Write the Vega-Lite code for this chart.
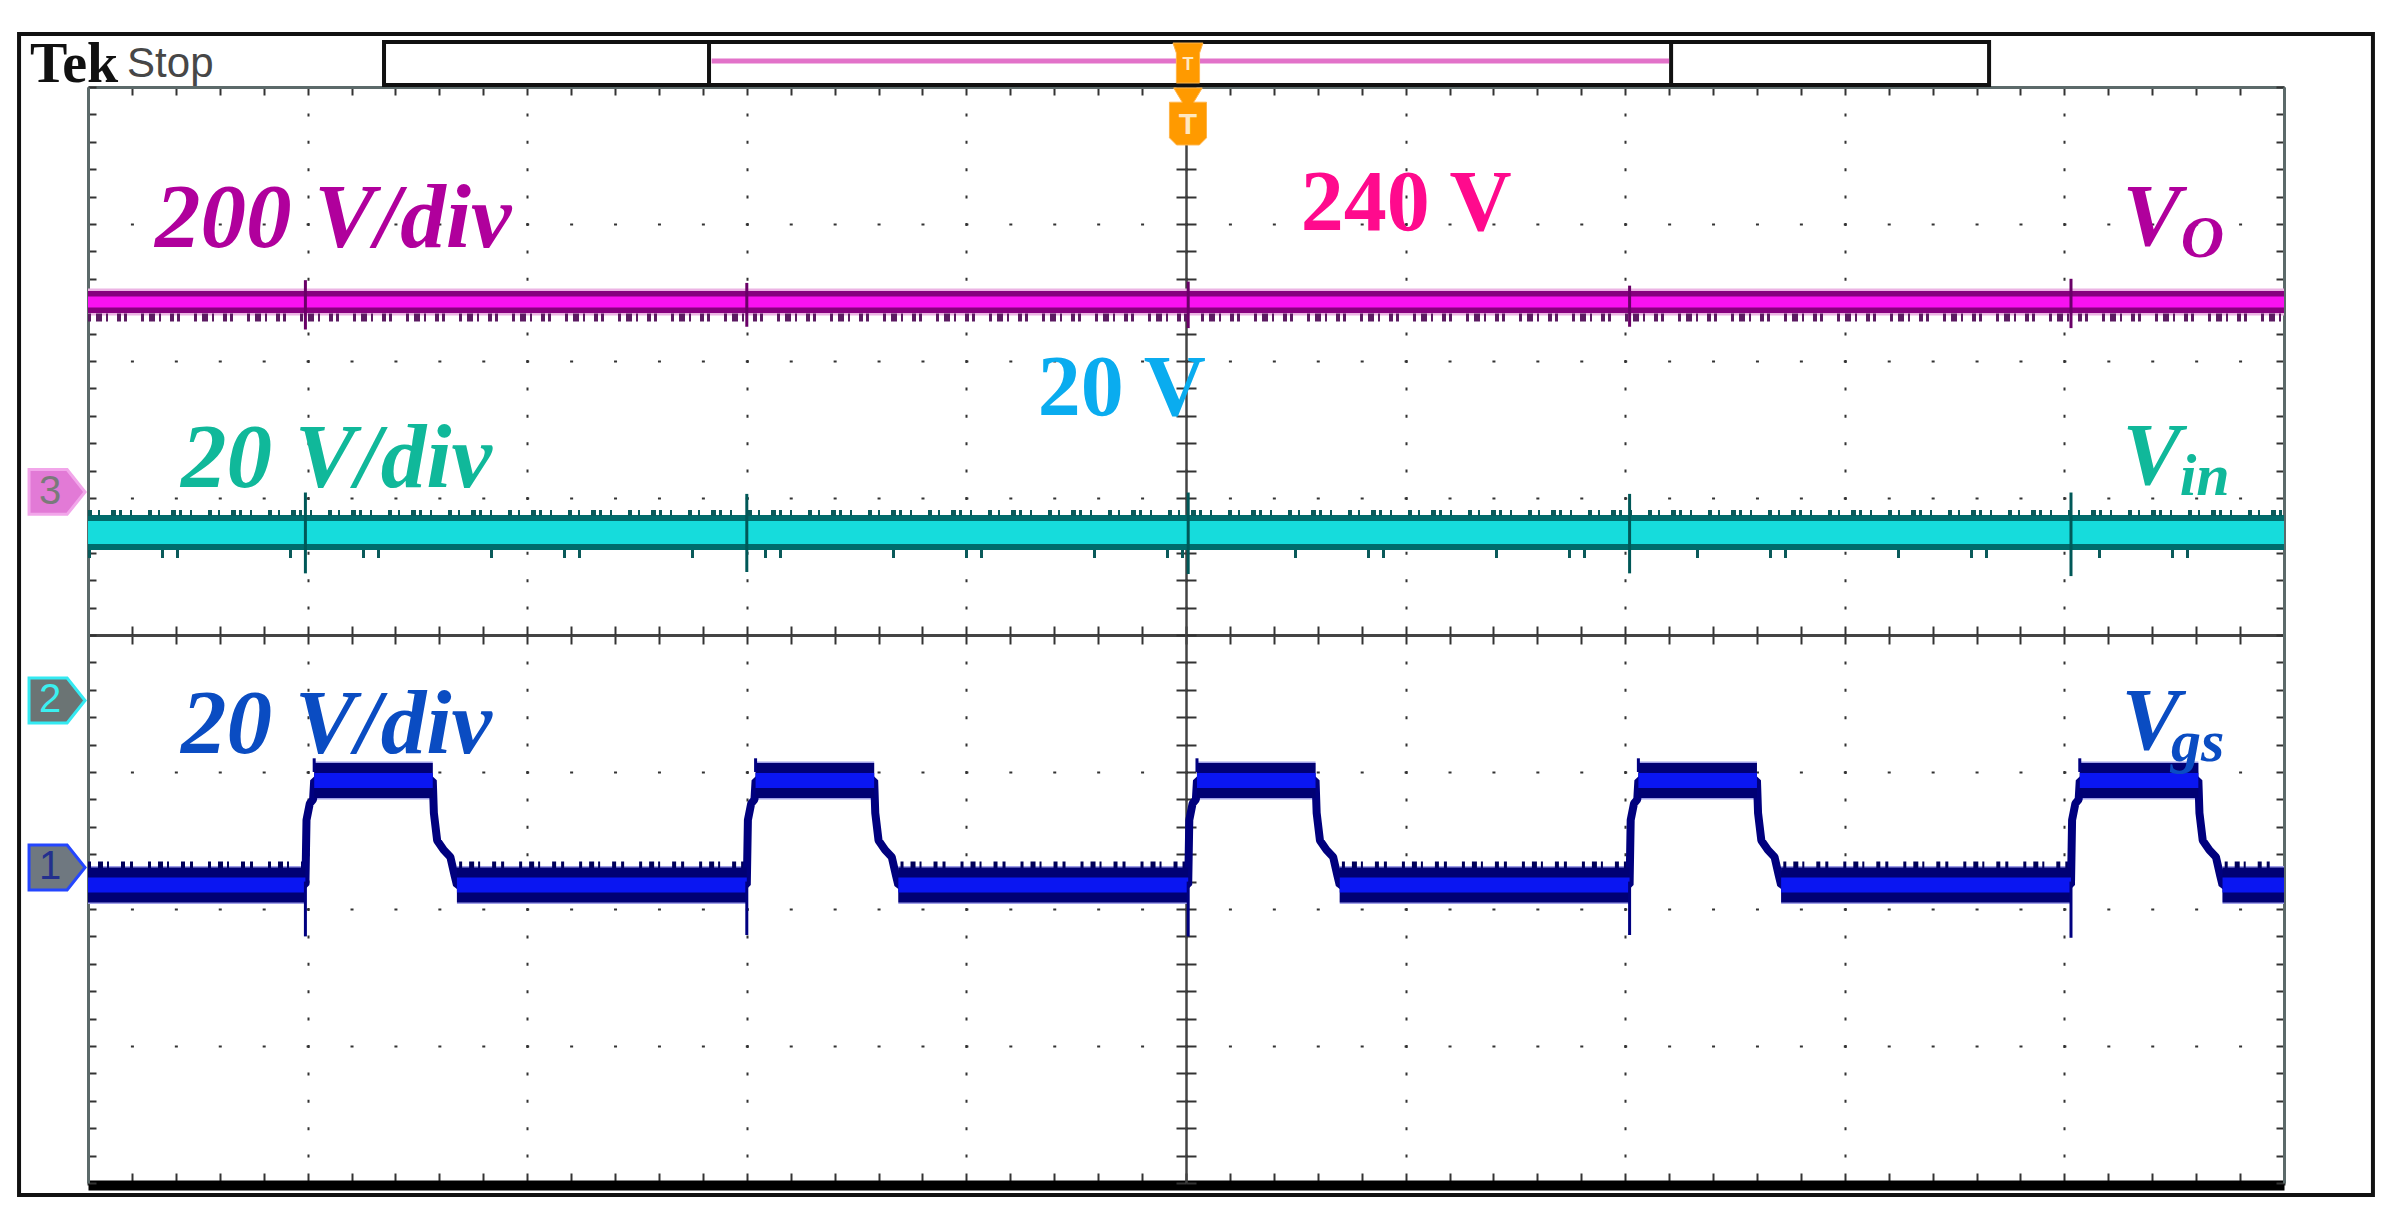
{
  "$schema": "https://vega.github.io/schema/vega-lite/v6.json",
  "width": 2196,
  "height": 1096,
  "autosize": "none",
  "padding": {"left": 88, "top": 87, "right": 110, "bottom": 30},
  "background": "white",
  "config": {"view": {"stroke": null}},
  "datasets": {
    "vo": [{"t":0,"v":2.431},{"t":1,"v":2.431},{"t":2,"v":2.431},{"t":3,"v":2.431},{"t":4,"v":2.431},{"t":5,"v":2.431},{"t":6,"v":2.431},{"t":7,"v":2.431},{"t":8,"v":2.431},{"t":9,"v":2.431},{"t":10,"v":2.431}],
    "vin": [{"t":0,"v":0.748},{"t":1,"v":0.748},{"t":2,"v":0.748},{"t":3,"v":0.748},{"t":4,"v":0.748},{"t":5,"v":0.748},{"t":6,"v":0.748},{"t":7,"v":0.748},{"t":8,"v":0.748},{"t":9,"v":0.748},{"t":10,"v":0.748}],
    "fringe": [
      {"t":0,"v":2.317,"seg":"vo"},{"t":10,"v":2.317,"seg":"vo"},
      {"t":0,"v":0.89,"seg":"vin_hi"},{"t":10,"v":0.89,"seg":"vin_hi"},
      {"t":0,"v":0.591,"seg":"vin_lo"},{"t":10,"v":0.591,"seg":"vin_lo"},
      {"t":0,"v":-1.679,"seg":"g0"},{"t":0.98,"v":-1.679,"seg":"g0"},
      {"t":1.69,"v":-1.679,"seg":"g1"},{"t":2.99,"v":-1.679,"seg":"g1"},
      {"t":3.7,"v":-1.679,"seg":"g3"},{"t":5.0,"v":-1.679,"seg":"g3"},
      {"t":5.71,"v":-1.679,"seg":"g5"},{"t":7.01,"v":-1.679,"seg":"g5"},
      {"t":7.72,"v":-1.679,"seg":"g7"},{"t":9.02,"v":-1.679,"seg":"g7"},
      {"t":9.73,"v":-1.679,"seg":"g9"},{"t":10,"v":-1.679,"seg":"g9"}
    ],
    "vgs": [
      {"t":0,"v":-1.825,"kind":"L","seg":"a0"},{"t":0.99,"v":-1.825,"kind":"L","seg":"a0"},
      {"t":0.995,"v":-1.35,"kind":"E","seg":"e"},{"t":1.01,"v":-1.23,"kind":"E","seg":"e"},{"t":1.025,"v":-1.2,"kind":"E","seg":"e"},
      {"t":1.03,"v":-1.062,"kind":"L","seg":"b1"},{"t":1.57,"v":-1.062,"kind":"L","seg":"b1"},
      {"t":1.575,"v":-1.3,"kind":"E","seg":"e"},{"t":1.59,"v":-1.5,"kind":"E","seg":"e"},{"t":1.62,"v":-1.57,"kind":"E","seg":"e"},{"t":1.65,"v":-1.62,"kind":"E","seg":"e"},{"t":1.67,"v":-1.76,"kind":"E","seg":"e"},
      {"t":1.68,"v":-1.825,"kind":"L","seg":"a1"},{"t":3.0,"v":-1.825,"kind":"L","seg":"a1"},
      {"t":3.005,"v":-1.35,"kind":"E","seg":"e"},{"t":3.02,"v":-1.23,"kind":"E","seg":"e"},{"t":3.035,"v":-1.2,"kind":"E","seg":"e"},
      {"t":3.04,"v":-1.062,"kind":"L","seg":"b3"},{"t":3.58,"v":-1.062,"kind":"L","seg":"b3"},
      {"t":3.585,"v":-1.3,"kind":"E","seg":"e"},{"t":3.6,"v":-1.5,"kind":"E","seg":"e"},{"t":3.63,"v":-1.57,"kind":"E","seg":"e"},{"t":3.66,"v":-1.62,"kind":"E","seg":"e"},{"t":3.68,"v":-1.76,"kind":"E","seg":"e"},
      {"t":3.69,"v":-1.825,"kind":"L","seg":"a3"},{"t":5.01,"v":-1.825,"kind":"L","seg":"a3"},
      {"t":5.015,"v":-1.35,"kind":"E","seg":"e"},{"t":5.03,"v":-1.23,"kind":"E","seg":"e"},{"t":5.045,"v":-1.2,"kind":"E","seg":"e"},
      {"t":5.05,"v":-1.062,"kind":"L","seg":"b5"},{"t":5.59,"v":-1.062,"kind":"L","seg":"b5"},
      {"t":5.595,"v":-1.3,"kind":"E","seg":"e"},{"t":5.61,"v":-1.5,"kind":"E","seg":"e"},{"t":5.64,"v":-1.57,"kind":"E","seg":"e"},{"t":5.67,"v":-1.62,"kind":"E","seg":"e"},{"t":5.69,"v":-1.76,"kind":"E","seg":"e"},
      {"t":5.7,"v":-1.825,"kind":"L","seg":"a5"},{"t":7.02,"v":-1.825,"kind":"L","seg":"a5"},
      {"t":7.025,"v":-1.35,"kind":"E","seg":"e"},{"t":7.04,"v":-1.23,"kind":"E","seg":"e"},{"t":7.055,"v":-1.2,"kind":"E","seg":"e"},
      {"t":7.06,"v":-1.062,"kind":"L","seg":"b7"},{"t":7.6,"v":-1.062,"kind":"L","seg":"b7"},
      {"t":7.605,"v":-1.3,"kind":"E","seg":"e"},{"t":7.62,"v":-1.5,"kind":"E","seg":"e"},{"t":7.65,"v":-1.57,"kind":"E","seg":"e"},{"t":7.68,"v":-1.62,"kind":"E","seg":"e"},{"t":7.7,"v":-1.76,"kind":"E","seg":"e"},
      {"t":7.71,"v":-1.825,"kind":"L","seg":"a7"},{"t":9.03,"v":-1.825,"kind":"L","seg":"a7"},
      {"t":9.035,"v":-1.35,"kind":"E","seg":"e"},{"t":9.05,"v":-1.23,"kind":"E","seg":"e"},{"t":9.065,"v":-1.2,"kind":"E","seg":"e"},
      {"t":9.07,"v":-1.062,"kind":"L","seg":"b9"},{"t":9.61,"v":-1.062,"kind":"L","seg":"b9"},
      {"t":9.615,"v":-1.3,"kind":"E","seg":"e"},{"t":9.63,"v":-1.5,"kind":"E","seg":"e"},{"t":9.66,"v":-1.57,"kind":"E","seg":"e"},{"t":9.69,"v":-1.62,"kind":"E","seg":"e"},{"t":9.71,"v":-1.76,"kind":"E","seg":"e"},
      {"t":9.72,"v":-1.825,"kind":"L","seg":"a9"},{"t":10,"v":-1.825,"kind":"L","seg":"a9"}
    ],
    "spikes": [
      {"t":0.99,"v":2.59,"v2":2.23,"ch":"sp_vo"},{"t":3.0,"v":2.57,"v2":2.25,"ch":"sp_vo"},{"t":5.01,"v":2.58,"v2":2.24,"ch":"sp_vo"},{"t":7.02,"v":2.55,"v2":2.25,"ch":"sp_vo"},{"t":9.03,"v":2.6,"v2":2.24,"ch":"sp_vo"},
      {"t":0.99,"v":1.04,"v2":0.45,"ch":"sp_vin"},{"t":3.0,"v":1.03,"v2":0.46,"ch":"sp_vin"},{"t":5.01,"v":1.04,"v2":0.445,"ch":"sp_vin"},{"t":7.02,"v":1.03,"v2":0.45,"ch":"sp_vin"},{"t":9.03,"v":1.04,"v2":0.43,"ch":"sp_vin"},
      {"t":0.99,"v":-1.8,"v2":-2.2,"ch":"sp_vgs"},{"t":3.0,"v":-1.8,"v2":-2.19,"ch":"sp_vgs"},{"t":5.01,"v":-1.8,"v2":-2.2,"ch":"sp_vgs"},{"t":7.02,"v":-1.8,"v2":-2.19,"ch":"sp_vgs"},{"t":9.03,"v":-1.8,"v2":-2.21,"ch":"sp_vgs"},
      {"t":1.03,"v":-1.0,"v2":-0.9,"ch":"sp_vgs"},{"t":3.04,"v":-1.0,"v2":-0.9,"ch":"sp_vgs"},{"t":5.05,"v":-1.0,"v2":-0.9,"ch":"sp_vgs"},{"t":7.06,"v":-1.0,"v2":-0.9,"ch":"sp_vgs"},{"t":9.07,"v":-1.0,"v2":-0.9,"ch":"sp_vgs"}
    ],
    "frames": [
      {"t":-0.314,"t2":10.405,"v":4.387,"v2":-4.088,"part":"frame"},
      {"t":1.348,"t2":8.657,"v":4.328,"v2":4.015,"part":"header"},
      {"t":2.828,"t2":7.209,"v":4.328,"v2":4.015,"part":"window"}
    ],
    "window": [{"t":2.84,"t2":7.2,"v":4.19}],
    "trig": [{"t":5.009,"v":3.785,"part":"lower"},{"t":5.009,"v":4.175,"part":"upper"}],
    "markers": [
      {"t":-0.141,"v":1.044,"ch":"m3"},
      {"t":-0.141,"v":-0.478,"ch":"m2"},
      {"t":-0.141,"v":-1.697,"ch":"m1"}
    ],
    "labels": [
      {"t":0.305,"v":2.832,"text":"200 V/div","ch":"vo_t","role":"big"},
      {"t":0.4235,"v":1.08,"text":"20 V/div","ch":"vin_t","role":"big"},
      {"t":0.4235,"v":-0.861,"text":"20 V/div","ch":"vgs_t","role":"big"},
      {"t":9.265,"v":2.847,"text":"V","ch":"vo_t","role":"sym"},
      {"t":9.53,"v":2.759,"text":"O","ch":"vo_t","role":"sub"},
      {"t":9.265,"v":1.102,"text":"V","ch":"vin_t","role":"sym"},
      {"t":9.525,"v":1.022,"text":"in","ch":"vin_t","role":"sub"},
      {"t":9.26,"v":-0.832,"text":"V","ch":"vgs_t","role":"sym"},
      {"t":9.485,"v":-0.92,"text":"gs","ch":"vgs_t","role":"sub"},
      {"t":5.522,"v":2.956,"text":"240 V","ch":"l240","role":"lvl"},
      {"t":4.325,"v":1.606,"text":"20 V","ch":"l20","role":"lvl"},
      {"t":-0.264,"v":4.0365,"text":"Tek","ch":"tek","role":"tek"},
      {"t":0.178,"v":4.073,"text":"Stop","ch":"stop","role":"stop"},
      {"t":-0.173,"v":1.044,"text":"3","ch":"m3","role":"mk"},
      {"t":-0.173,"v":-0.478,"text":"2","ch":"m2","role":"mk"},
      {"t":-0.173,"v":-1.697,"text":"1","ch":"m1","role":"mk"},
      {"t":5.009,"v":3.723,"text":"T","ch":"trig","role":"trig"},
      {"t":5.009,"v":4.16,"text":"T","ch":"trig","role":"trig2"}
    ]
  },
  "resolve": {"axis": {"x": "independent", "y": "independent"}},
  "layer": [
    {
      "data": {"name": "vo"},
      "mark": {"type": "line", "color": "#ecb4e4", "strokeWidth": 27, "strokeCap": "butt"},
      "encoding": {
        "x": {"field": "t", "type": "quantitative", "scale": {"domain": [0, 10], "nice": false, "zero": false},
          "axis": {"orient": "bottom", "values": [1,2,3,4,5,6,7,8,9], "grid": true, "gridColor": "#333333", "gridWidth": 2, "gridDash": [3, 24.4], "gridDashOffset": 1.5, "ticks": false, "labels": false, "domain": false, "title": null}},
        "y": {"field": "v", "type": "quantitative", "scale": {"domain": [-4, 4], "nice": false, "zero": false},
          "axis": {"orient": "left", "values": [-3,-2,-1,0,1,2,3], "grid": true, "gridColor": "#333333", "gridWidth": 2, "gridDash": [3, 40.92], "gridDashOffset": 1.5, "ticks": false, "labels": false, "domain": false, "title": null}}
      }
    },
    {
      "data": {"name": "vo"},
      "mark": {"type": "line", "color": "#86007e", "strokeWidth": 22, "strokeCap": "butt"},
      "encoding": {
        "x": {"field": "t", "type": "quantitative", "scale": {"domain": [0, 10], "nice": false, "zero": false},
          "axis": {"orient": "bottom", "offset": 2, "values": [0,0.2,0.4,0.6,0.8,1,1.2,1.4,1.6,1.8,2,2.2,2.4,2.6,2.8,3,3.2,3.4,3.6,3.8,4,4.2,4.4,4.6,4.8,5,5.2,5.4,5.6,5.8,6,6.2,6.4,6.6,6.8,7,7.2,7.4,7.6,7.8,8,8.2,8.4,8.6,8.8,9,9.2,9.4,9.6,9.8,10], "ticks": true, "tickSize": -12, "tickColor": "#333333", "tickWidth": 2, "labels": false, "grid": false, "domain": true, "domainColor": "#000000", "domainWidth": 10, "title": null}},
        "y": {"field": "v", "type": "quantitative", "scale": {"domain": [-4, 4], "nice": false, "zero": false},
          "axis": {"orient": "left", "values": [-4,-3.8,-3.6,-3.4,-3.2,-3,-2.8,-2.6,-2.4,-2.2,-2,-1.8,-1.6,-1.4,-1.2,-1,-0.8,-0.6,-0.4,-0.2,0,0.2,0.4,0.6,0.8,1,1.2,1.4,1.6,1.8,2,2.2,2.4,2.6,2.8,3,3.2,3.4,3.6,3.8,4], "ticks": true, "tickSize": -8, "tickColor": "#333333", "tickWidth": 2, "labels": false, "grid": false, "domain": true, "domainColor": "#5c6a6a", "domainWidth": 3, "title": null}}
      }
    },
    {
      "data": {"name": "vo"},
      "mark": {"type": "line", "color": "#f812f0", "strokeWidth": 11, "strokeCap": "butt"},
      "encoding": {
        "x": {"field": "t", "type": "quantitative", "scale": {"domain": [0, 10], "nice": false, "zero": false},
          "axis": {"orient": "top", "values": [0,0.2,0.4,0.6,0.8,1,1.2,1.4,1.6,1.8,2,2.2,2.4,2.6,2.8,3,3.2,3.4,3.6,3.8,4,4.2,4.4,4.6,4.8,5,5.2,5.4,5.6,5.8,6,6.2,6.4,6.6,6.8,7,7.2,7.4,7.6,7.8,8,8.2,8.4,8.6,8.8,9,9.2,9.4,9.6,9.8,10], "ticks": true, "tickSize": -8, "tickColor": "#333333", "tickWidth": 2, "labels": false, "grid": false, "domain": true, "domainColor": "#5c6a6a", "domainWidth": 3, "title": null}},
        "y": {"field": "v", "type": "quantitative", "scale": {"domain": [-4, 4], "nice": false, "zero": false},
          "axis": {"orient": "right", "values": [-4,-3.8,-3.6,-3.4,-3.2,-3,-2.8,-2.6,-2.4,-2.2,-2,-1.8,-1.6,-1.4,-1.2,-1,-0.8,-0.6,-0.4,-0.2,0,0.2,0.4,0.6,0.8,1,1.2,1.4,1.6,1.8,2,2.2,2.4,2.6,2.8,3,3.2,3.4,3.6,3.8,4], "ticks": true, "tickSize": -8, "tickColor": "#333333", "tickWidth": 2, "labels": false, "grid": false, "domain": true, "domainColor": "#5c6a6a", "domainWidth": 3, "title": null}}
      }
    },
    {
      "data": {"name": "vin"},
      "mark": {"type": "line", "color": "#006c6c", "strokeWidth": 35, "strokeCap": "butt"},
      "encoding": {
        "x": {"field": "t", "type": "quantitative", "scale": {"domain": [0, 10], "nice": false, "zero": false},
          "axis": {"orient": "bottom", "offset": -548, "values": [0,0.2,0.4,0.6,0.8,1,1.2,1.4,1.6,1.8,2,2.2,2.4,2.6,2.8,3,3.2,3.4,3.6,3.8,4,4.2,4.4,4.6,4.8,5,5.2,5.4,5.6,5.8,6,6.2,6.4,6.6,6.8,7,7.2,7.4,7.6,7.8,8,8.2,8.4,8.6,8.8,9,9.2,9.4,9.6,9.8,10], "ticks": true, "tickSize": 9, "tickColor": "#333333", "tickWidth": 2, "labels": false, "grid": false, "domain": true, "domainColor": "#444444", "domainWidth": 3, "title": null}},
        "y": {"field": "v", "type": "quantitative", "scale": {"domain": [-4, 4], "nice": false, "zero": false},
          "axis": {"orient": "left", "offset": -1098, "values": [-4,-3.8,-3.6,-3.4,-3.2,-3,-2.8,-2.6,-2.4,-2.2,-2,-1.8,-1.6,-1.4,-1.2,-1,-0.8,-0.6,-0.4,-0.2,0,0.2,0.4,0.6,0.8,1,1.2,1.4,1.6,1.8,2,2.2,2.4,2.6,2.8,3,3.2,3.4,3.6,3.8,4], "ticks": true, "tickSize": 10, "tickColor": "#333333", "tickWidth": 2, "labels": false, "grid": false, "domain": true, "domainColor": "#444444", "domainWidth": 2.5, "title": null}}
      }
    },
    {
      "data": {"name": "vin"},
      "mark": {"type": "line", "color": "#16dcdc", "strokeWidth": 23, "strokeCap": "butt"},
      "encoding": {
        "x": {"field": "t", "type": "quantitative", "scale": {"domain": [0, 10], "nice": false, "zero": false},
          "axis": {"orient": "top", "offset": -548, "values": [0,0.2,0.4,0.6,0.8,1,1.2,1.4,1.6,1.8,2,2.2,2.4,2.6,2.8,3,3.2,3.4,3.6,3.8,4,4.2,4.4,4.6,4.8,5,5.2,5.4,5.6,5.8,6,6.2,6.4,6.6,6.8,7,7.2,7.4,7.6,7.8,8,8.2,8.4,8.6,8.8,9,9.2,9.4,9.6,9.8,10], "ticks": true, "tickSize": 9, "tickColor": "#333333", "tickWidth": 2, "labels": false, "grid": false, "domain": false, "title": null}},
        "y": {"field": "v", "type": "quantitative", "scale": {"domain": [-4, 4], "nice": false, "zero": false},
          "axis": {"orient": "right", "offset": -1098, "values": [-4,-3.8,-3.6,-3.4,-3.2,-3,-2.8,-2.6,-2.4,-2.2,-2,-1.8,-1.6,-1.4,-1.2,-1,-0.8,-0.6,-0.4,-0.2,0,0.2,0.4,0.6,0.8,1,1.2,1.4,1.6,1.8,2,2.2,2.4,2.6,2.8,3,3.2,3.4,3.6,3.8,4], "ticks": true, "tickSize": 10, "tickColor": "#333333", "tickWidth": 2, "labels": false, "grid": false, "domain": false, "title": null}}
      }
    },
    {
      "data": {"name": "fringe"},
      "transform": [{"filter": "datum.seg == 'vo'"}],
      "mark": {"type": "line", "color": "#5c1a62", "strokeWidth": 8, "strokeCap": "butt", "strokeDash": [3, 5, 6, 4, 2, 9, 4, 3, 3, 14]},
      "encoding": {
        "x": {"field": "t", "type": "quantitative", "scale": {"domain": [0, 10], "nice": false, "zero": false}, "axis": null},
        "y": {"field": "v", "type": "quantitative", "scale": {"domain": [-4, 4], "nice": false, "zero": false}, "axis": null}
      }
    },
    {
      "data": {"name": "fringe"},
      "transform": [{"filter": "datum.seg == 'vin_hi'"}],
      "mark": {"type": "line", "color": "#0a5a5a", "strokeWidth": 6, "strokeCap": "butt", "strokeDash": [4, 6, 2, 11, 5, 3, 3, 8, 2, 16]},
      "encoding": {
        "x": {"field": "t", "type": "quantitative", "scale": {"domain": [0, 10], "nice": false, "zero": false}, "axis": null},
        "y": {"field": "v", "type": "quantitative", "scale": {"domain": [-4, 4], "nice": false, "zero": false}, "axis": null}
      }
    },
    {
      "data": {"name": "fringe"},
      "transform": [{"filter": "datum.seg == 'vin_lo'"}],
      "mark": {"type": "line", "color": "#0a5a5a", "strokeWidth": 8, "strokeCap": "butt", "strokeDash": [3, 70, 3, 12, 3, 110]},
      "encoding": {
        "x": {"field": "t", "type": "quantitative", "scale": {"domain": [0, 10], "nice": false, "zero": false}, "axis": null},
        "y": {"field": "v", "type": "quantitative", "scale": {"domain": [-4, 4], "nice": false, "zero": false}, "axis": null}
      }
    },
    {
      "data": {"name": "vgs"},
      "transform": [{"filter": "datum.kind == 'L'"}],
      "mark": {"type": "line", "color": "#a0a0e8", "strokeWidth": 38, "strokeCap": "butt"},
      "encoding": {
        "x": {"field": "t", "type": "quantitative", "scale": {"domain": [0, 10], "nice": false, "zero": false}, "axis": null},
        "y": {"field": "v", "type": "quantitative", "scale": {"domain": [-4, 4], "nice": false, "zero": false}, "axis": null},
        "detail": {"field": "seg"}
      }
    },
    {
      "data": {"name": "fringe"},
      "transform": [{"filter": "indexof(datum.seg, 'g') == 0"}],
      "mark": {"type": "line", "color": "#00005a", "strokeWidth": 7, "strokeCap": "butt", "strokeDash": [3, 7, 5, 4, 2, 12, 4, 5, 3, 15]},
      "encoding": {
        "x": {"field": "t", "type": "quantitative", "scale": {"domain": [0, 10], "nice": false, "zero": false}, "axis": null},
        "y": {"field": "v", "type": "quantitative", "scale": {"domain": [-4, 4], "nice": false, "zero": false}, "axis": null},
        "detail": {"field": "seg"}
      }
    },
    {
      "data": {"name": "vgs"},
      "mark": {"type": "line", "color": "#00007e", "strokeWidth": 8, "strokeJoin": "bevel"},
      "encoding": {
        "x": {"field": "t", "type": "quantitative", "scale": {"domain": [0, 10], "nice": false, "zero": false}, "axis": null},
        "y": {"field": "v", "type": "quantitative", "scale": {"domain": [-4, 4], "nice": false, "zero": false}, "axis": null}
      }
    },
    {
      "data": {"name": "vgs"},
      "transform": [{"filter": "datum.kind == 'L'"}],
      "mark": {"type": "line", "color": "#000074", "strokeWidth": 35, "strokeCap": "butt"},
      "encoding": {
        "x": {"field": "t", "type": "quantitative", "scale": {"domain": [0, 10], "nice": false, "zero": false}, "axis": null},
        "y": {"field": "v", "type": "quantitative", "scale": {"domain": [-4, 4], "nice": false, "zero": false}, "axis": null},
        "detail": {"field": "seg"}
      }
    },
    {
      "data": {"name": "vgs"},
      "transform": [{"filter": "datum.kind == 'L'"}],
      "mark": {"type": "line", "color": "#0a16f2", "strokeWidth": 15, "strokeCap": "butt"},
      "encoding": {
        "x": {"field": "t", "type": "quantitative", "scale": {"domain": [0, 10], "nice": false, "zero": false}, "axis": null},
        "y": {"field": "v", "type": "quantitative", "scale": {"domain": [-4, 4], "nice": false, "zero": false}, "axis": null},
        "detail": {"field": "seg"}
      }
    },
    {
      "data": {"name": "spikes"},
      "mark": {"type": "rule", "strokeWidth": 3},
      "encoding": {
        "x": {"field": "t", "type": "quantitative", "scale": {"domain": [0, 10], "nice": false, "zero": false}, "axis": null},
        "y": {"field": "v", "type": "quantitative", "scale": {"domain": [-4, 4], "nice": false, "zero": false}, "axis": null},
        "y2": {"field": "v2"},
        "color": {"field": "ch", "type": "nominal", "legend": null,
          "scale": {"domain": ["sp_vo","sp_vin","sp_vgs","vo_t","vin_t","vgs_t","l240","l20","tek","stop","m3","m2","m1","trig"],
                    "range": ["#6a0068","#005858","#000080","#b0009c","#10b89a","#0a4cc2","#ff0a8d","#0aacef","#111111","#474747","#7a7a7a","#3af0f0","#23308e","#ffe8c0"]}}
      }
    },
    {
      "data": {"name": "frames"},
      "mark": {"type": "rect", "fillOpacity": 0, "stroke": "#111111", "strokeWidth": 4},
      "encoding": {
        "x": {"field": "t", "type": "quantitative", "scale": {"domain": [0, 10], "nice": false, "zero": false}, "axis": null},
        "x2": {"field": "t2"},
        "y": {"field": "v", "type": "quantitative", "scale": {"domain": [-4, 4], "nice": false, "zero": false}, "axis": null},
        "y2": {"field": "v2"}
      }
    },
    {
      "data": {"name": "window"},
      "mark": {"type": "rule", "color": "#e272c9", "strokeWidth": 5},
      "encoding": {
        "x": {"field": "t", "type": "quantitative", "scale": {"domain": [0, 10], "nice": false, "zero": false}, "axis": null},
        "x2": {"field": "t2"},
        "y": {"field": "v", "type": "quantitative", "scale": {"domain": [-4, 4], "nice": false, "zero": false}, "axis": null}
      }
    },
    {
      "data": {"name": "trig"},
      "transform": [{"filter": "datum.part == 'lower'"}],
      "mark": {"type": "point", "filled": true, "fill": "#ff9a00", "stroke": "#ffb449", "strokeWidth": 1, "opacity": 1, "size": 3249,
        "shape": "M-0.5,-1L0.5,-1L0.2,-0.5L0.65,-0.5L0.65,0.75L0.4,1L-0.4,1L-0.65,0.75L-0.65,-0.5L-0.2,-0.5Z"},
      "encoding": {
        "x": {"field": "t", "type": "quantitative", "scale": {"domain": [0, 10], "nice": false, "zero": false}, "axis": null},
        "y": {"field": "v", "type": "quantitative", "scale": {"domain": [-4, 4], "nice": false, "zero": false}, "axis": null}
      }
    },
    {
      "data": {"name": "trig"},
      "transform": [{"filter": "datum.part == 'upper'"}],
      "mark": {"type": "point", "filled": true, "fill": "#ff9a00", "stroke": "#ffb449", "strokeWidth": 1, "opacity": 1, "size": 1600,
        "shape": "M-0.75,-1L0.75,-1L0.58,-0.5L0.58,1L-0.58,1L-0.58,-0.5Z"},
      "encoding": {
        "x": {"field": "t", "type": "quantitative", "scale": {"domain": [0, 10], "nice": false, "zero": false}, "axis": null},
        "y": {"field": "v", "type": "quantitative", "scale": {"domain": [-4, 4], "nice": false, "zero": false}, "axis": null}
      }
    },
    {
      "data": {"name": "markers"},
      "mark": {"type": "point", "filled": true, "strokeWidth": 3, "opacity": 1, "size": 3136,
        "shape": "M-1,-0.8L0.36,-0.8L1,0L0.36,0.8L-1,0.8Z"},
      "encoding": {
        "x": {"field": "t", "type": "quantitative", "scale": {"domain": [0, 10], "nice": false, "zero": false}, "axis": null},
        "y": {"field": "v", "type": "quantitative", "scale": {"domain": [-4, 4], "nice": false, "zero": false}, "axis": null},
        "fill": {"field": "ch", "type": "nominal", "legend": null, "scale": {"domain": ["m3","m2","m1"], "range": ["#e27ad6","#6b7474","#6f7880"]}},
        "stroke": {"field": "ch", "type": "nominal", "legend": null, "scale": {"domain": ["m3","m2","m1"], "range": ["#f2a6ea","#34eaf2","#2446ff"]}}
      }
    },
    {
      "data": {"name": "labels"},
      "transform": [{"filter": "datum.role == 'big'"}],
      "mark": {"type": "text", "font": "Liberation Serif", "fontStyle": "italic", "fontWeight": "bold", "fontSize": 91, "align": "left", "baseline": "alphabetic"},
      "encoding": {
        "x": {"field": "t", "type": "quantitative", "scale": {"domain": [0, 10], "nice": false, "zero": false}, "axis": null},
        "y": {"field": "v", "type": "quantitative", "scale": {"domain": [-4, 4], "nice": false, "zero": false}, "axis": null},
        "text": {"field": "text"},
        "color": {"field": "ch", "type": "nominal", "legend": null}
      }
    },
    {
      "data": {"name": "labels"},
      "transform": [{"filter": "datum.role == 'sym'"}],
      "mark": {"type": "text", "font": "Liberation Serif", "fontStyle": "italic", "fontWeight": "bold", "fontSize": 88, "align": "left", "baseline": "alphabetic"},
      "encoding": {
        "x": {"field": "t", "type": "quantitative", "scale": {"domain": [0, 10], "nice": false, "zero": false}, "axis": null},
        "y": {"field": "v", "type": "quantitative", "scale": {"domain": [-4, 4], "nice": false, "zero": false}, "axis": null},
        "text": {"field": "text"},
        "color": {"field": "ch", "type": "nominal", "legend": null}
      }
    },
    {
      "data": {"name": "labels"},
      "transform": [{"filter": "datum.role == 'sub'"}],
      "mark": {"type": "text", "font": "Liberation Serif", "fontStyle": "italic", "fontWeight": "bold", "fontSize": 60, "align": "left", "baseline": "alphabetic"},
      "encoding": {
        "x": {"field": "t", "type": "quantitative", "scale": {"domain": [0, 10], "nice": false, "zero": false}, "axis": null},
        "y": {"field": "v", "type": "quantitative", "scale": {"domain": [-4, 4], "nice": false, "zero": false}, "axis": null},
        "text": {"field": "text"},
        "color": {"field": "ch", "type": "nominal", "legend": null}
      }
    },
    {
      "data": {"name": "labels"},
      "transform": [{"filter": "datum.role == 'lvl'"}],
      "mark": {"type": "text", "font": "Liberation Serif", "fontWeight": "bold", "fontSize": 86, "align": "left", "baseline": "alphabetic"},
      "encoding": {
        "x": {"field": "t", "type": "quantitative", "scale": {"domain": [0, 10], "nice": false, "zero": false}, "axis": null},
        "y": {"field": "v", "type": "quantitative", "scale": {"domain": [-4, 4], "nice": false, "zero": false}, "axis": null},
        "text": {"field": "text"},
        "color": {"field": "ch", "type": "nominal", "legend": null}
      }
    },
    {
      "data": {"name": "labels"},
      "transform": [{"filter": "datum.role == 'tek'"}],
      "mark": {"type": "text", "font": "Liberation Serif", "fontWeight": "bold", "fontSize": 56, "align": "left", "baseline": "alphabetic"},
      "encoding": {
        "x": {"field": "t", "type": "quantitative", "scale": {"domain": [0, 10], "nice": false, "zero": false}, "axis": null},
        "y": {"field": "v", "type": "quantitative", "scale": {"domain": [-4, 4], "nice": false, "zero": false}, "axis": null},
        "text": {"field": "text"},
        "color": {"field": "ch", "type": "nominal", "legend": null}
      }
    },
    {
      "data": {"name": "labels"},
      "transform": [{"filter": "datum.role == 'stop'"}],
      "mark": {"type": "text", "font": "Liberation Sans", "fontSize": 42, "align": "left", "baseline": "alphabetic"},
      "encoding": {
        "x": {"field": "t", "type": "quantitative", "scale": {"domain": [0, 10], "nice": false, "zero": false}, "axis": null},
        "y": {"field": "v", "type": "quantitative", "scale": {"domain": [-4, 4], "nice": false, "zero": false}, "axis": null},
        "text": {"field": "text"},
        "color": {"field": "ch", "type": "nominal", "legend": null}
      }
    },
    {
      "data": {"name": "labels"},
      "transform": [{"filter": "datum.role == 'mk'"}],
      "mark": {"type": "text", "font": "Liberation Sans", "fontSize": 40, "align": "center", "baseline": "middle"},
      "encoding": {
        "x": {"field": "t", "type": "quantitative", "scale": {"domain": [0, 10], "nice": false, "zero": false}, "axis": null},
        "y": {"field": "v", "type": "quantitative", "scale": {"domain": [-4, 4], "nice": false, "zero": false}, "axis": null},
        "text": {"field": "text"},
        "color": {"field": "ch", "type": "nominal", "legend": null}
      }
    },
    {
      "data": {"name": "labels"},
      "transform": [{"filter": "datum.role == 'trig'"}],
      "mark": {"type": "text", "font": "Liberation Sans", "fontWeight": "bold", "fontSize": 30, "align": "center", "baseline": "middle"},
      "encoding": {
        "x": {"field": "t", "type": "quantitative", "scale": {"domain": [0, 10], "nice": false, "zero": false}, "axis": null},
        "y": {"field": "v", "type": "quantitative", "scale": {"domain": [-4, 4], "nice": false, "zero": false}, "axis": null},
        "text": {"field": "text"},
        "color": {"field": "ch", "type": "nominal", "legend": null}
      }
    },
    {
      "data": {"name": "labels"},
      "transform": [{"filter": "datum.role == 'trig2'"}],
      "mark": {"type": "text", "font": "Liberation Sans", "fontWeight": "bold", "fontSize": 18, "align": "center", "baseline": "middle"},
      "encoding": {
        "x": {"field": "t", "type": "quantitative", "scale": {"domain": [0, 10], "nice": false, "zero": false}, "axis": null},
        "y": {"field": "v", "type": "quantitative", "scale": {"domain": [-4, 4], "nice": false, "zero": false}, "axis": null},
        "text": {"field": "text"},
        "color": {"field": "ch", "type": "nominal", "legend": null}
      }
    }
  ]
}
